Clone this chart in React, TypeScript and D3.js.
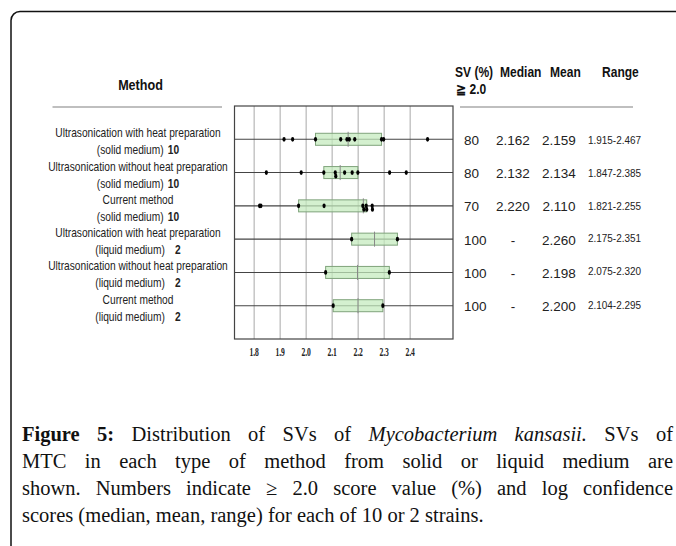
import React, { useLayoutEffect, useRef } from "react";
import * as d3 from "d3";

const W = 676;
const H = 546;

// rows of the figure, top to bottom
const methods = [
  "Ultrasonication with heat preparation",
  "Ultrasonication without heat preparation",
  "Current method",
  "Ultrasonication with heat preparation",
  "Ultrasonication without heat preparation",
  "Current method",
];
const media = [
  "(solid medium)",
  "(solid medium)",
  "(solid medium)",
  "(liquid medium)",
  "(liquid medium)",
  "(liquid medium)",
];
const strainCounts = ["10", "10", "10", "2", "2", "2"];

// log score values per strain
const scoresHeatSolid = [1.915, 1.948, 2.036, 2.133, 2.157, 2.166, 2.187, 2.29, 2.298, 2.467];
const scoresNoHeatSolid = [1.847, 1.981, 2.068, 2.112, 2.114, 2.148, 2.177, 2.199, 2.321, 2.385];
const scoresCurrentSolid = [1.821, 1.826, 1.971, 2.069, 2.218, 2.222, 2.231, 2.233, 2.254, 2.255];
const scoresHeatLiquid = [2.175, 2.351];
const scoresNoHeatLiquid = [2.075, 2.32];
const scoresCurrentLiquid = [2.104, 2.295];
const scores = [
  scoresHeatSolid,
  scoresNoHeatSolid,
  scoresCurrentSolid,
  scoresHeatLiquid,
  scoresNoHeatLiquid,
  scoresCurrentLiquid,
];

// table on the right
const svPct = ["80", "80", "70", "100", "100", "100"];
const medianText = ["2.162", "2.132", "2.220", "-", "-", "-"];
const meanText = ["2.159", "2.134", "2.110", "2.260", "2.198", "2.200"];
const rangeText = ["1.915-2.467", "1.847-2.385", "1.821-2.255", "2.175-2.351", "2.075-2.320", "2.104-2.295"];

const xTicks = [1.8, 1.9, 2.0, 2.1, 2.2, 2.3, 2.4];

const captionLines = [
  "Figure 5: Distribution of SVs of Mycobacterium kansasii. SVs of",
  "MTC in each type of method from solid or liquid medium are",
  "shown. Numbers indicate \u2265 2.0 score value (%) and log confidence",
  "scores (median, mean, range) for each of 10 or 2 strains.",
];

const PLOT = { left: 234.5, right: 453, top: 106, bottom: 339 };
const SANS = "'Liberation Sans', Arial, Helvetica, sans-serif";
const SERIF = "'Liberation Serif', 'Times New Roman', serif";

// Tukey five number summary, same as R's fivenum()
function fivenum(vals: number[]) {
  const x = [...vals].sort((a, b) => a - b);
  const n = x.length;
  const n4 = Math.floor((n + 3) / 2) / 2;
  const d = [1, n4, (n + 1) / 2, n + 1 - n4, n];
  return d.map((k) => 0.5 * (x[Math.floor(k) - 1] + x[Math.ceil(k) - 1]));
}

// text squeezed horizontally, the figure uses a narrow face
const Narrow = ({ x, y, sx, children, ...rest }: any) => (
  <text transform={`translate(${x},${y}) scale(${sx},1)`} {...rest}>
    {children}
  </text>
);

const Caption = ({ y0, step }: { y0: number; step: number }) => {
  const refs = useRef<(SVGTextElement | null)[]>([]);
  const target = 651;

  // justify the first three lines by stretching the word spacing
  useLayoutEffect(() => {
    refs.current.forEach((el, i) => {
      if (!el || i === captionLines.length - 1) return;
      el.setAttribute("word-spacing", "0");
      const len = el.getComputedTextLength();
      const spaces = (captionLines[i].match(/ /g) || []).length;
      el.setAttribute("word-spacing", String((target - len) / spaces));
    });
  }, []);

  return (
    <g fontFamily={SERIF} fontSize={20.5} fill="#111">
      {captionLines.map((line, i) => {
        const y = y0 + i * step;
        if (i === 0) {
          return (
            <text key={i} ref={(el) => (refs.current[i] = el)} x={22} y={y}>
              <tspan fontWeight="bold">Figure 5:</tspan>
              {" Distribution of SVs of "}
              <tspan fontStyle="italic">Mycobacterium kansasii.</tspan>
              {" SVs of"}
            </text>
          );
        }
        return (
          <text key={i} ref={(el) => (refs.current[i] = el)} x={22} y={y}>
            {line}
          </text>
        );
      })}
    </g>
  );
};

export default function App() {
  const x = d3
    .scaleLinear()
    .domain([1.7245, 2.5648])
    .range([PLOT.left, PLOT.right]);

  const rows = d3.range(methods.length);
  const y = d3
    .scalePoint<number>()
    .domain(rows)
    .range([PLOT.top, PLOT.bottom])
    .padding(1);

  const boxH = 12;

  return (
    <svg
      width={W}
      height={H}
      style={{ position: "absolute", left: 0, top: 0, background: "#fff" }}
    >
      {/* page frame */}
      <rect x={11} y={11.5} width={720} height={600} rx={9} fill="none" stroke="#111" strokeWidth={1.5} />

      {/* headers */}
      <g fontFamily={SANS} fontWeight="bold" fontSize={14} fill="#111">
        <Narrow x={140.5} y={90} sx={0.9} textAnchor="middle">Method</Narrow>
        <Narrow x={455} y={76.5} sx={0.86}>SV (%)</Narrow>
        <Narrow x={500} y={76.5} sx={0.86}>Median</Narrow>
        <Narrow x={550} y={76.5} sx={0.86}>Mean</Narrow>
        <Narrow x={602} y={76.5} sx={0.86}>Range</Narrow>
        <Narrow x={456} y={94} sx={0.86}>{"\u2267 2.0"}</Narrow>
      </g>
      <line x1={52.5} x2={222} y1={107} y2={107} stroke="#aaa" strokeWidth={1.5} />
      <line x1={460} x2={633} y1={107} y2={107} stroke="#aaa" strokeWidth={1.5} />

      {/* method labels */}
      <g fontFamily={SANS} fontSize={12} fill="#222" textAnchor="middle">
        {rows.map((i) => {
          const cy = y(i)!;
          return (
            <g key={i}>
              <Narrow x={138} y={cy - 2} sx={0.85}>{methods[i]}</Narrow>
              <Narrow x={138} y={cy + 15} sx={0.85}>
                {media[i]}
                <tspan dx={i < 3 ? 5 : 12} fontWeight="bold">{strainCounts[i]}</tspan>
              </Narrow>
            </g>
          );
        })}
      </g>

      {/* plot grid */}
      <g>
        {xTicks.map((t) => (
          <line key={t} x1={x(t)} x2={x(t)} y1={PLOT.top} y2={PLOT.bottom} stroke="#a8a8a8" strokeWidth={1} />
        ))}
        {rows.map((i) => (
          <line key={i} x1={PLOT.left} x2={PLOT.right} y1={y(i)} y2={y(i)} stroke="#444" strokeWidth={1.1} />
        ))}
      </g>

      {/* boxes and points */}
      {rows.map((i) => {
        const cy = y(i)!;
        const [, lo, med, hi] = fivenum(scores[i]);
        const placed: number[] = [];
        const pts = [...scores[i]].sort((a, b) => a - b).map((v) => {
          const px = x(v);
          const k = placed.filter((p) => Math.abs(p - px) < 1.2).length;
          placed.push(px);
          const dy = k === 0 ? 0 : k % 2 === 1 ? 3.6 * Math.ceil(k / 2) : -3.6 * (k / 2);
          return { px, py: cy + dy };
        });
        return (
          <g key={i}>
            <rect
              x={x(lo)}
              y={cy - boxH / 2}
              width={x(hi) - x(lo)}
              height={boxH}
              fill="#c4eabc"
              fillOpacity={0.72}
              stroke="#7fa37b"
              strokeWidth={1}
            />
            <line x1={x(med)} x2={x(med)} y1={cy - boxH / 2 - 1.5} y2={cy + boxH / 2 + 1.5} stroke="#888" strokeWidth={1} />
            {pts.map((p, j) => (
              <ellipse key={j} cx={p.px} cy={p.py} rx={1.6} ry={2.4} fill="#000" />
            ))}
          </g>
        );
      })}

      <rect
        x={PLOT.left}
        y={PLOT.top}
        width={PLOT.right - PLOT.left}
        height={PLOT.bottom - PLOT.top}
        fill="none"
        stroke="#444"
        strokeWidth={1.2}
      />

      {/* x tick labels */}
      <g fontFamily={SERIF} fontWeight="bold" fontSize={11.5} fill="#222" textAnchor="middle">
        {xTicks.map((t) => (
          <text key={t} x={x(t)} y={355.5} textLength={9.5} lengthAdjust="spacingAndGlyphs">
            {d3.format(".1f")(t)}
          </text>
        ))}
      </g>

      {/* table */}
      <g fontFamily={SANS} fontSize={13.5} fill="#222">
        {rows.map((i) => {
          const base = y(i)! + 5.5;
          return (
            <g key={i}>
              <text x={464} y={base}>{svPct[i]}</text>
              <text x={513} y={base} textAnchor="middle">{medianText[i]}</text>
              <text x={559} y={base} textAnchor="middle">{meanText[i]}</text>
              <text x={588} y={i < 3 ? base - 1 : base - 2.5} fontSize={10} textLength={53} lengthAdjust="spacingAndGlyphs">
                {rangeText[i]}
              </text>
            </g>
          );
        })}
      </g>

      <Caption y0={441} step={27} />
    </svg>
  );
}
